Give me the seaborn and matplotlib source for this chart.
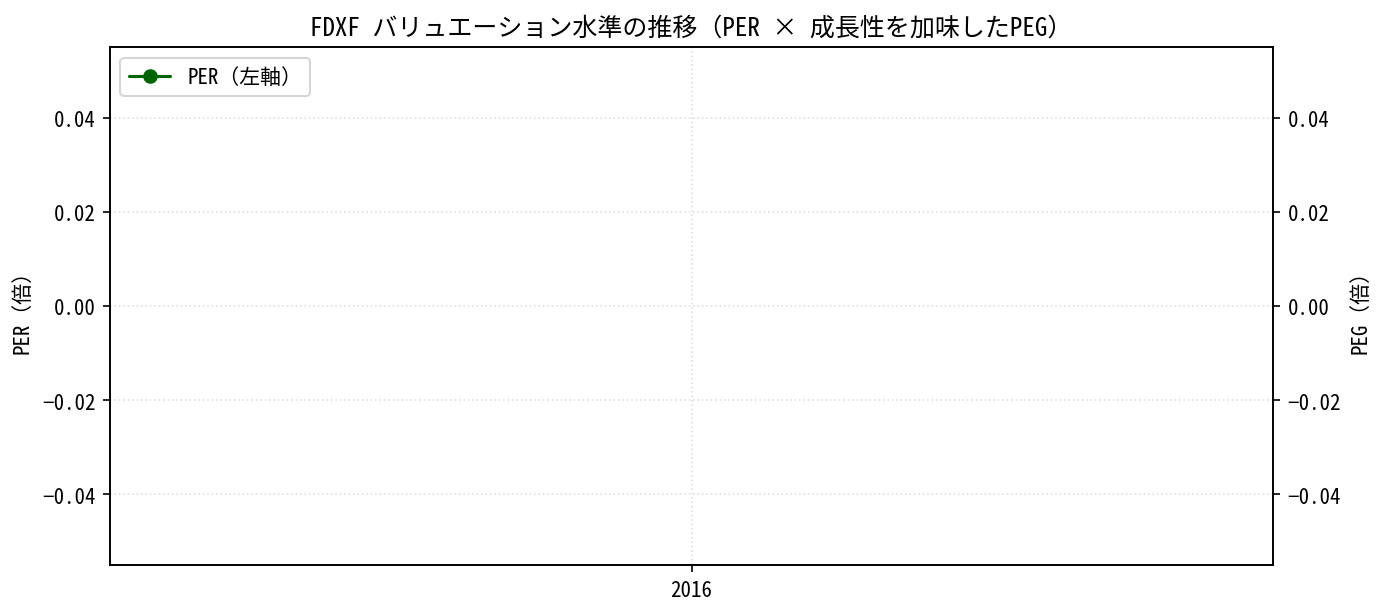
import numpy as np
import pandas as pd
import seaborn as sns
import matplotlib.pyplot as plt

# values: a single year with no PER / PEG data
years = ["2016"]
per = [np.nan]
peg = [np.nan]

df = pd.DataFrame({"年度": years, "PER": per, "PEG": peg})

sns.set_style("ticks")
plt.rcParams['font.family'] = ['Noto Sans Mono CJK JP', 'Noto Sans CJK JP', 'DejaVu Sans']
plt.rcParams['axes.unicode_minus'] = True
plt.rcParams['axes.edgecolor'] = 'black'
plt.rcParams['axes.labelcolor'] = 'black'
plt.rcParams['text.color'] = 'black'
plt.rcParams['xtick.color'] = 'black'
plt.rcParams['ytick.color'] = 'black'

fig, ax1 = plt.subplots(figsize=(9.22, 4.113), dpi=150)
fig.subplots_adjust(left=0.0795, right=0.9205, top=0.922, bottom=0.083)

ax1.plot(df["年度"], df["PER"], marker='o', color='darkgreen', label='PER（左軸）')
ax1.set_ylabel('PER（倍）', fontsize=10)
ax1.grid(True, linestyle=':', alpha=0.6)

ax2 = ax1.twinx()
sns.lineplot(data=df, x="年度", y="PEG", ax=ax2, estimator=None,
             marker='s', color='purple', legend=False)
ax2.set_ylabel('PEG（倍）', fontsize=10)
ax2.set_ylim(ax1.get_ylim())

ax1.set_xlabel('')
ax1.tick_params(labelsize=10)
ax2.tick_params(labelsize=10)
ax1.legend(loc='upper left', fontsize=10)
ax1.set_title('FDXF バリュエーション水準の推移（PER × 成長性を加味したPEG）', fontsize=12)

fig.savefig('out.png', dpi=150)
